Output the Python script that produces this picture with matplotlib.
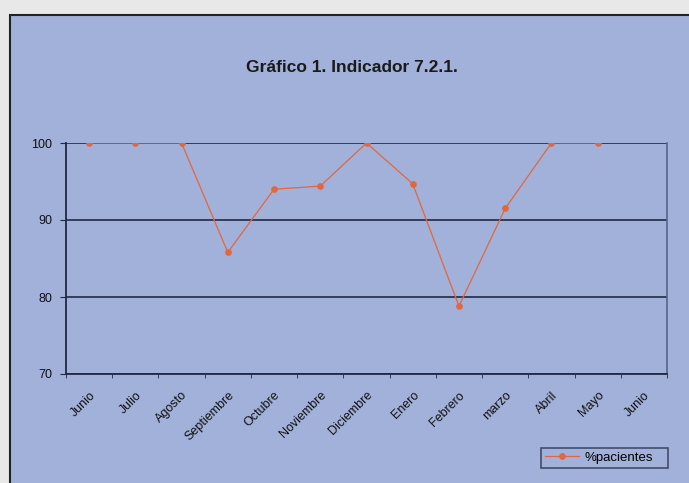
import numpy as np
import matplotlib
matplotlib.use("Agg")
import matplotlib.pyplot as plt
import matplotlib.patches as mpatches
from matplotlib.transforms import ScaledTranslation

meses = ["Junio", "Julio", "Agosto", "Septiembre", "Octubre", "Noviembre",
         "Diciembre", "Enero", "Febrero", "marzo", "Abril", "Mayo", "Junio"]
pacientes = [100, 100, 100, 85.8, 94.0, 94.4, 100, 94.7, 78.8, 91.5, 100, 100]
yticks = [70, 80, 90, 100]

plt.rcParams["font.family"] = ["Liberation Sans", "DejaVu Sans"]

panel = "#a2b1d9"
dark = "#1f2a44"

fig = plt.figure(figsize=(6.89, 4.83), dpi=100)
fig.patch.set_facecolor("#e8e8e8")

# chart panel with dark border, running off right and bottom edges
fig.patches.append(mpatches.Rectangle(
    (10 / 689, -0.05), 1.0, (483 - 15) / 483 + 0.05,
    transform=fig.transFigure, facecolor=panel, edgecolor="#222222",
    linewidth=1.5, zorder=0))

ax = fig.add_axes([66 / 689, (483 - 374) / 483, 601 / 689, 231 / 483])
ax.set_zorder(2)
ax.set_facecolor(panel)

x = np.arange(len(pacientes))
ax.plot(x, pacientes, color="#e2673f", linewidth=0.9, marker="o",
        markersize=3.8, zorder=3, label="%pacientes")

ax.set_xlim(-0.5, len(meses) - 0.5)
ax.set_ylim(70, 100)
ax.set_yticks(yticks)
ax.set_yticklabels([str(v) for v in yticks], fontsize=9, color="#111111")
ax.yaxis.grid(True, color=dark, linewidth=1.2)
ax.set_axisbelow(True)

ax.set_xticks(np.arange(len(meses)))
ax.set_xticklabels(meses, rotation=45, ha="right", va="top",
                   rotation_mode="anchor", fontsize=9, color="#111111")
# labels sit a bit left of the category centre, like the original
shift = ScaledTranslation(-0.16, 0, fig.dpi_scale_trans)
for lab in ax.get_xticklabels():
    lab.set_transform(lab.get_transform() + shift)
ax.set_xticks(np.arange(len(meses) + 1) - 0.5, minor=True)
ax.tick_params(axis="x", which="major", length=0, pad=11)
ax.tick_params(axis="x", which="minor", length=3, color=dark, direction="out")
ax.tick_params(axis="y", length=4, color=dark, direction="out", pad=6)

for side in ["left", "bottom"]:
    ax.spines[side].set_color(dark)
    ax.spines[side].set_linewidth(1.3)
ax.spines["right"].set_color("#56658a")
ax.spines["right"].set_linewidth(1.2)
ax.spines["top"].set_visible(False)

fig.text(352 / 689, 1 - 72 / 483, "Gráfico 1. Indicador 7.2.1.",
         ha="center", va="baseline", fontsize=12.5, fontweight="bold",
         color="#1a1a1a", zorder=5)

leg = ax.legend(loc="lower left", bbox_to_anchor=(541 / 689, 15 / 483, 127 / 689, 26 / 483),
                bbox_transform=fig.transFigure, mode="expand", fontsize=9.5,
                frameon=True, fancybox=False, handlelength=2.6, borderaxespad=0,
                handletextpad=0.4, borderpad=0.3)
leg.get_frame().set_facecolor(panel)
leg.get_frame().set_edgecolor("#2a3450")
leg.get_frame().set_linewidth(1.2)

fig.savefig("out.png", dpi=100, facecolor=fig.get_facecolor())
